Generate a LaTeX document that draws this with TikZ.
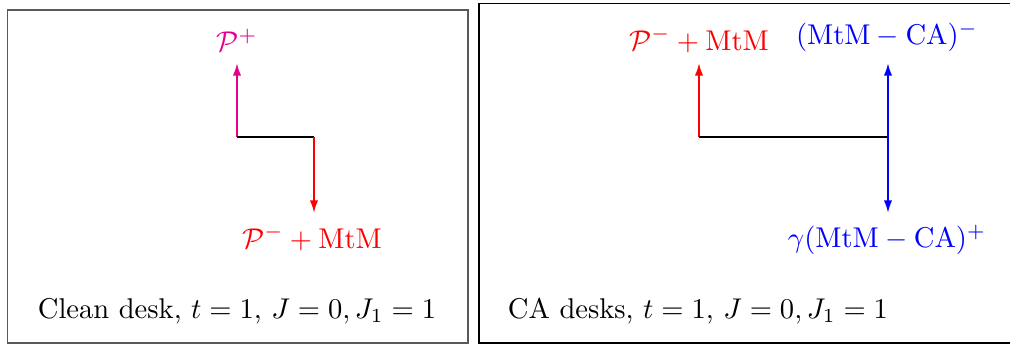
\documentclass[tikz,border=0pt]{standalone}
\usetikzlibrary{arrows.meta}
\definecolor{mag}{RGB}{228,0,140}
\tikzset{
  panel/.style={draw=black!65, line width=0.42pt},
  panelB/.style={draw=black, line width=0.42pt},
  tip/.tip={Latex[length=4.4pt,width=2.9pt]},
  arr/.style={line width=0.7pt, -tip},
  dbl/.style={line width=0.7pt, tip-tip},
  bar/.style={line width=0.7pt, black},
  lab/.style={inner sep=0pt},
}
\begin{document}
\begin{tikzpicture}[x=0.35pt,y=-0.35pt]
\useasboundingbox (0,0) rectangle (1010,345);
% panels
\draw[panel] (7.5,10) rectangle (468,343);
\draw[panelB] (479,3.5) rectangle (1030,343);
% left panel
\coordinate (lj) at (237,137);
\coordinate (lr) at (314,137);
\coordinate (lu) at (237,63);
\coordinate (ld) at (314,213);
\node[lab, text=mag] (lp) at (237,40) {$\mathcal{P}^{+}$};
\node[lab, text=red] (lm) at (312,238) {$\mathcal{P}^{-}+\mathrm{MtM}$};
\draw[arr, mag] (lj) -- (lu);
\draw[bar] (lj) -- (lr);
\draw[arr, red] (lr) -- (ld);
\node[lab] (lc) at (237,311) {Clean desk, $t=1$, $J=0, J_1=1$};
% right panel
\coordinate (rj) at (699,137);
\coordinate (rr) at (888,137);
\coordinate (ru) at (699,63);
\coordinate (rt) at (888,63);
\coordinate (rb) at (888,213);
\node[lab, text=red] (rp) at (699,40) {$\mathcal{P}^{-}+\mathrm{MtM}$};
\node[lab, text=blue] (rm) at (887,37) {$(\mathrm{MtM}-\mathrm{CA})^{-}$};
\node[lab, text=blue] (rg) at (887,240) {$\gamma(\mathrm{MtM}-\mathrm{CA})^{+}$};
\draw[arr, red] (rj) -- (ru);
\draw[bar] (rj) -- (rr);
\draw[dbl, blue] (rt) -- (rb);
\node[lab] (rc) at (698,311) {CA desks, $t=1$, $J=0, J_1=1$};
\end{tikzpicture}
\end{document}
